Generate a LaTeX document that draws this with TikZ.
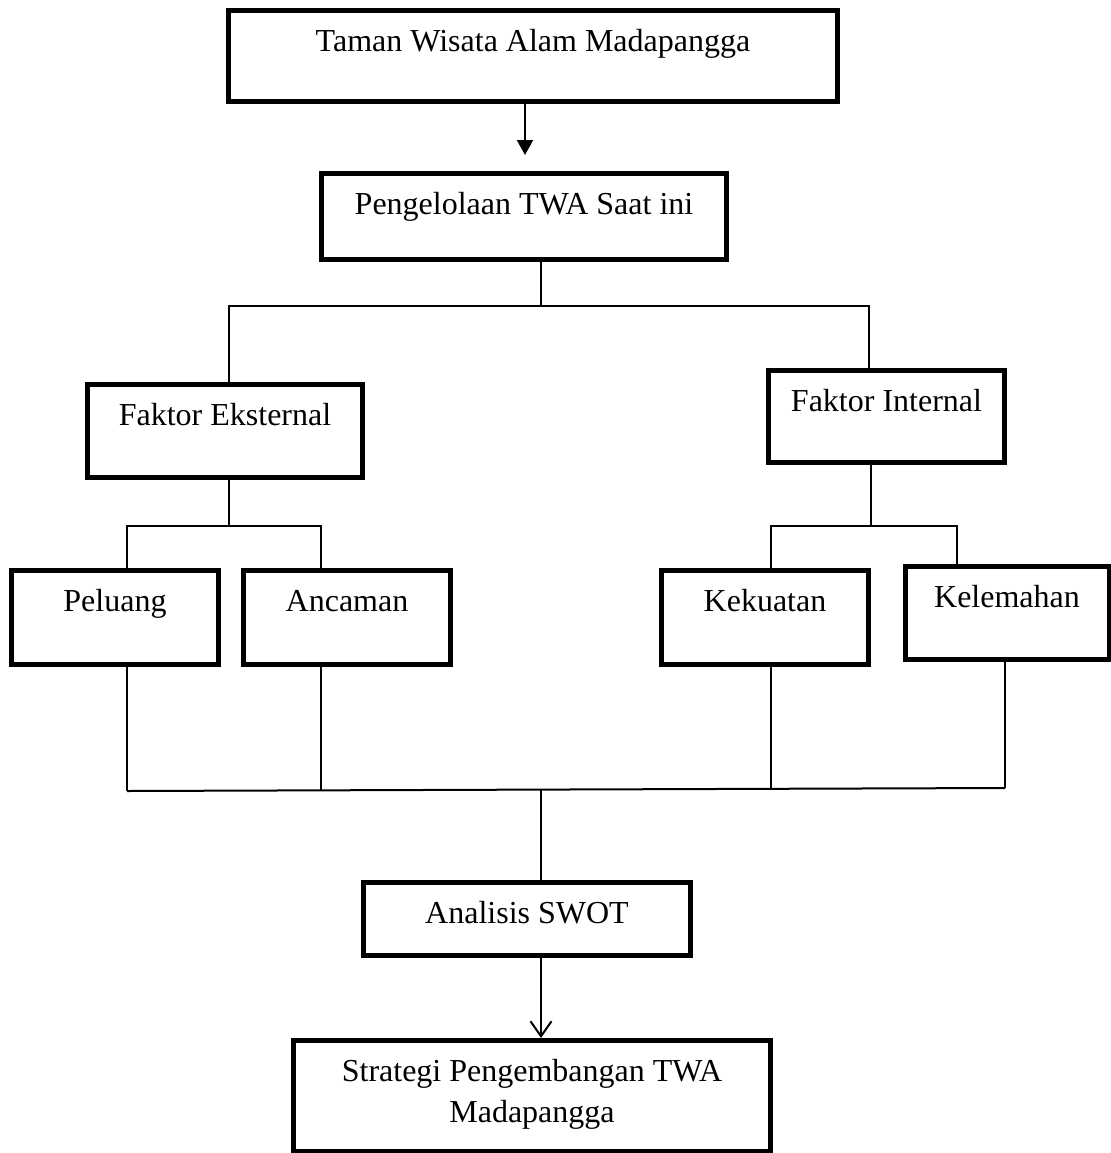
\documentclass[tikz,border=0pt]{standalone}
\usepackage{fontspec}
\setmainfont{Liberation Serif}
\usetikzlibrary{arrows.meta}
\tikzset{
  box/.style={draw, line width=2.5pt, inner sep=0pt, anchor=north, align=center,
    text height=20.5pt, font=\fontsize{16}{20.5}\selectfont},
  link/.style={line width=1pt}
}
\begin{document}
\begin{tikzpicture}[x=0.5pt, y=-0.5pt]
\useasboundingbox (0,0) rectangle (1111,1153);
\node [box, minimum width=304.5pt, text depth=25pt] (taman) at (533,8) {Taman Wisata Alam Madapangga};
\node [box, minimum width=202.5pt, text depth=22.5pt] (kelola) at (524,171) {Pengelolaan TWA Saat ini};
\node [box, minimum width=137.5pt, text depth=26pt] (eksternal) at (225,382) {Faktor Eksternal};
\node [box, minimum width=118pt, text depth=25.5pt] (internal) at (886.5,368) {Faktor Internal};
\node [box, minimum width=103.5pt, text depth=26.5pt] (peluang) at (115,568) {Peluang};
\node [box, minimum width=103.5pt, text depth=26.5pt] (ancaman) at (347,568) {Ancaman};
\node [box, minimum width=103.5pt, text depth=26.5pt] (kekuatan) at (765,568) {Kekuatan};
\node [box, minimum width=102pt, text depth=26pt] (kelemahan) at (1007,564) {Kelemahan};
\node [box, minimum width=163.5pt, text depth=16pt] (swot) at (527,880) {Analisis SWOT};
\node [box, minimum width=238.5pt, text height=41pt, text depth=14.5pt] (strategi) at (532,1038) {Strategi Pengembangan TWA\\Madapangga};

\coordinate (tip) at (525,155);
\coordinate (j) at (541,306);
\coordinate (jl) at (229,306);
\coordinate (jr) at (869,306);
\coordinate (e) at (229,526);
\coordinate (el) at (127,526);
\coordinate (er) at (321,526);
\coordinate (i) at (871,526);
\coordinate (il) at (771,526);
\coordinate (ir) at (957,526);
\coordinate (b1) at (127,791);
\coordinate (b2) at (321,791);
\coordinate (b3) at (771,790);
\coordinate (b4) at (1005,788);
\coordinate (b) at (541,790);

\draw [link, -{Triangle[length=7.5pt, width=8pt]}] (taman.south -| tip) -- (tip);
\draw [link] (kelola.south -| j) -- (j);
\draw [link] (jl |- eksternal.north) -- (jl) -- (jr) -- (jr |- internal.north);
\draw [link] (eksternal.south -| e) -- (e);
\draw [link] (el |- peluang.north) -- (el) -- (er) -- (er |- ancaman.north);
\draw [link] (internal.south -| i) -- (i);
\draw [link] (il |- kekuatan.north) -- (il) -- (ir) -- (ir |- kelemahan.north);
\draw [link] (peluang.south -| b1) -- (b1);
\draw [link] (ancaman.south -| b2) -- (b2);
\draw [link] (kekuatan.south -| b3) -- (b3);
\draw [link] (kelemahan.south -| b4) -- (b4);
\draw [link] (b1) -- (b4);
\draw [link] (b) -- (b |- swot.north);
\draw [link, -{Straight Barb[length=7.5pt, width=10.5pt]}] (swot.south -| b) -- (strategi.north -| b);
\end{tikzpicture}
\end{document}
